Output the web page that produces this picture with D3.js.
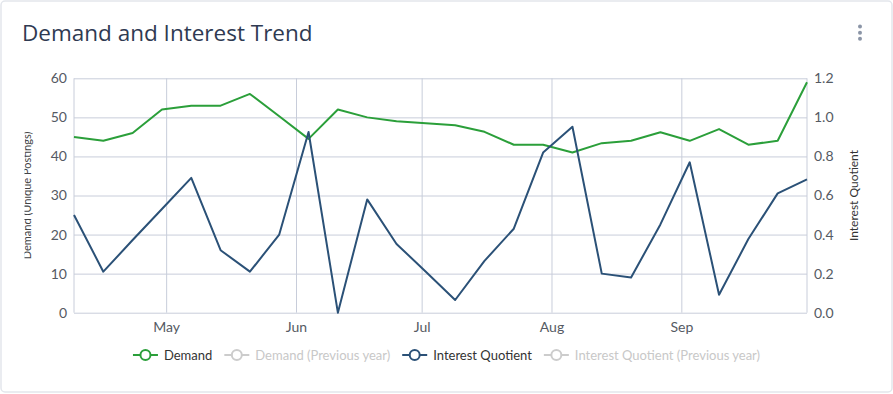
<!DOCTYPE html>
<html><head><meta charset="utf-8">
<script src="https://cdn.jsdelivr.net/npm/d3@7"></script>
<style>
html,body{margin:0;padding:0;background:#fff;}
svg{display:block;}
</style></head>
<body>
<svg id="chart" width="893" height="394"></svg>
<script>
const weeks = ["2023-04-09","2023-04-16","2023-04-23","2023-04-30","2023-05-07","2023-05-14","2023-05-21","2023-05-28",
  "2023-06-04","2023-06-11","2023-06-18","2023-06-25","2023-07-02","2023-07-09","2023-07-16","2023-07-23","2023-07-30",
  "2023-08-06","2023-08-13","2023-08-20","2023-08-27","2023-09-03","2023-09-10","2023-09-17","2023-09-24","2023-10-01"];
const demand = [45,44,46,52,53,53,56,50.3,44.5,52,50,49,48.5,48,46.3,43,43,41,43.4,44,46.2,44,47,43,44,59];
const interest = [0.50,0.21,0.372,0.531,0.69,0.32,0.21,0.40,0.925,0.0,0.58,0.352,0.21,0.065,0.265,0.43,0.82,0.952,0.20,0.18,0.452,0.77,0.092,0.377,0.611,0.683];
const leftTicks = [0,10,20,30,40,50,60];
const rightTicks = [0,0.2,0.4,0.6,0.8,1.0,1.2];
const monthTicks = ["2023-05-01","2023-06-01","2023-07-01","2023-08-01","2023-09-01"];
const legendItems = [
  {name:"Demand", color:"#2b9f3a", active:true},
  {name:"Demand (Previous year)", color:"#cccccc", active:false},
  {name:"Interest Quotient", color:"#2b5177", active:true},
  {name:"Interest Quotient (Previous year)", color:"#cccccc", active:false}
];
const title = "Demand and Interest Trend";

const parse = d3.utcParse("%Y-%m-%d");
const dates = weeks.map(parse);
const W = 893, H = 394;
const m = {left:74, right:807, top:78.3, bottom:312.7};
const gridColor = "#c8cdda";
const font = "Lato, 'Open Sans', sans-serif";

const svg = d3.select("#chart");
// card
svg.append("rect").attr("x",1).attr("y",1).attr("width",891).attr("height",391)
  .attr("rx",4).attr("fill","#fff").attr("stroke","#e3e6ec").attr("stroke-width",1.5);

svg.append("text").attr("x",22).attr("y",41).text(title)
  .attr("font-family","'Open Sans', sans-serif").attr("font-size",22.5).attr("fill","#2f3a52");

// menu dots
svg.selectAll("circle.dot").data([26.5,32.7,38.8]).join("circle").attr("class","dot")
  .attr("cx",860).attr("cy",d=>d).attr("r",2).attr("fill","#8b95a7");

const x = d3.scaleUtc().domain([dates[0], dates[dates.length-1]]).range([m.left, m.right]);
const yL = d3.scaleLinear().domain([0,60]).range([m.bottom, m.top]);
const yR = d3.scaleLinear().domain([0,1.2]).range([m.bottom, m.top]);

// horizontal grid
const gGrid = svg.append("g").attr("transform",`translate(${m.left},0)`)
  .call(d3.axisLeft(yL).tickValues(leftTicks).tickSize(-(m.right-m.left)).tickFormat(""));
gGrid.selectAll("line").attr("stroke",gridColor).attr("stroke-width",1);
gGrid.select(".domain").remove();
// vertical grid
const mt = monthTicks.map(parse);
const gV = svg.append("g").attr("transform",`translate(0,${m.bottom})`)
  .call(d3.axisBottom(x).tickValues(mt).tickSize(-(m.bottom-m.top)).tickFormat(""));
gV.selectAll("line").attr("stroke",gridColor);
gV.select(".domain").remove();
// side borders
svg.append("line").attr("x1",m.left).attr("x2",m.left).attr("y1",m.top).attr("y2",m.bottom).attr("stroke",gridColor);
svg.append("line").attr("x1",m.right).attr("x2",m.right).attr("y1",m.top).attr("y2",m.bottom).attr("stroke",gridColor);

// left axis labels
const aL = svg.append("g").attr("transform",`translate(${m.left},0)`)
  .call(d3.axisLeft(yL).tickValues(leftTicks).tickSize(0).tickPadding(7));
aL.select(".domain").remove();
aL.selectAll("text").attr("font-family",font).attr("font-size",14).attr("fill","#555a63");
// right axis labels
const aR = svg.append("g").attr("transform",`translate(${m.right},0)`)
  .call(d3.axisRight(yR).tickValues(rightTicks).tickSize(0).tickPadding(7).tickFormat(d3.format(".1f")));
aR.select(".domain").remove();
aR.selectAll("text").attr("font-family",font).attr("font-size",14).attr("fill","#555a63");
// bottom axis labels
const aB = svg.append("g").attr("transform",`translate(0,${m.bottom})`)
  .call(d3.axisBottom(x).tickValues(mt).tickSize(0).tickPadding(9).tickFormat(d3.utcFormat("%b")));
aB.select(".domain").remove();
aB.selectAll("text").attr("font-family",font).attr("font-size",14).attr("fill","#555a63");

// axis titles
svg.append("clipPath").attr("id","lclip").append("rect").attr("x",24.5).attr("y",0).attr("width",100).attr("height",H);
svg.append("g").attr("clip-path","url(#lclip)").append("text")
  .attr("transform",`translate(31,${(m.top+m.bottom)/2}) rotate(-90)`)
  .attr("text-anchor","middle").attr("font-family",font).attr("font-size",11).attr("fill","#444")
  .text("Demand (Unique Postings)");
svg.append("text")
  .attr("transform",`translate(858,${(m.top+m.bottom)/2}) rotate(-90)`)
  .attr("text-anchor","middle").attr("font-family",font).attr("font-size",12).attr("fill","#333")
  .text("Interest Quotient");

// lines
const lineL = d3.line().x((d,i)=>x(dates[i])).y(d=>yL(d));
const lineR = d3.line().x((d,i)=>x(dates[i])).y(d=>yR(d));
svg.append("path").datum(demand).attr("d",lineL).attr("fill","none")
  .attr("stroke",legendItems[0].color).attr("stroke-width",2).attr("stroke-linejoin","round");
svg.append("path").datum(interest).attr("d",lineR).attr("fill","none")
  .attr("stroke",legendItems[2].color).attr("stroke-width",2).attr("stroke-linejoin","round");

// legend
const lg = svg.append("g");
const items = lg.selectAll("g").data(legendItems).join("g");
items.append("line").attr("x1",0).attr("x2",25).attr("y1",0).attr("y2",0)
  .attr("stroke",d=>d.color).attr("stroke-width",2);
items.append("circle").attr("cx",12.5).attr("cy",0).attr("r",5)
  .attr("fill","#fff").attr("stroke",d=>d.color).attr("stroke-width",2);
items.append("text").attr("x",31).attr("y",0).attr("dy","0.35em")
  .attr("font-family",font).attr("font-size",13)
  .attr("fill",d=>d.active?"#333":"#c8c8c8").text(d=>d.name);
let cx = 0;
items.each(function(d,i){
  const w = 31 + this.querySelector("text").getComputedTextLength();
  d3.select(this).attr("transform",`translate(${cx},0)`);
  cx += w + 12;
});
const total = cx - 12;
lg.attr("transform",`translate(${446.5 - total/2},355)`);
</script>
</body></html>
